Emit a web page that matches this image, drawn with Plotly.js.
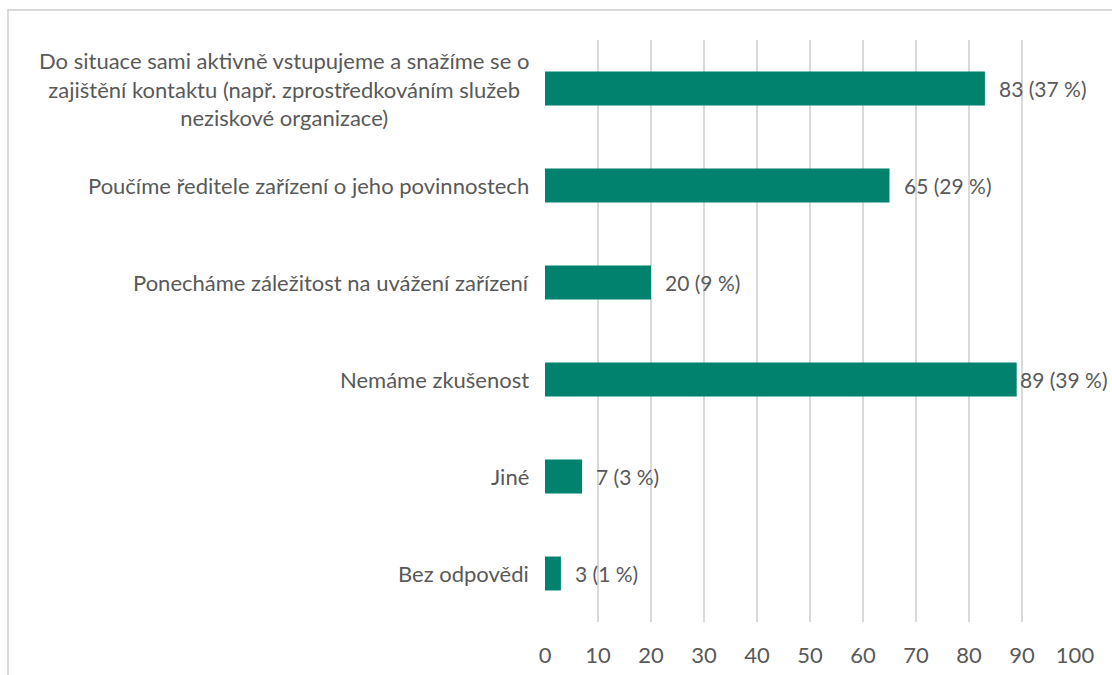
<!DOCTYPE html>
<html>
<head>
<meta charset="utf-8">
<script src="https://cdn.plot.ly/plotly-3.0.1.min.js"></script>
<style>
html,body{margin:0;padding:0;background:#fff;}
#wrap{position:relative;width:1112px;height:675px;}
#chart{position:absolute;left:0;top:0;width:1112px;height:675px;}
#frame{position:absolute;left:7px;top:9px;width:1110px;height:670px;border-left:2px solid #d9d9d9;border-top:2px solid #d9d9d9;pointer-events:none;}
</style>
</head>
<body>
<div id="wrap"><div id="chart"></div><div id="frame"></div></div>
<script>
const categories = [
  "Do situace sami aktivně vstupujeme a snažíme se o<br>zajištění kontaktu (např. zprostředkováním služeb<br>neziskové organizace)",
  "Poučíme ředitele zařízení o jeho povinnostech",
  "Ponecháme záležitost na uvážení zařízení",
  "Nemáme zkušenost",
  "Jiné",
  "Bez odpovědi"
];
const counts = [83, 65, 20, 89, 7, 3];
const percents = [37, 29, 9, 39, 3, 1];
const xTicks = [0,10,20,30,40,50,60,70,80,90,100];

const FONT = "Lato, 'Open Sans', sans-serif";
const TXT = "#595959";
const FS = 22;
const FS_LABEL = 21;

const trace = {
  type: "bar",
  orientation: "h",
  x: counts,
  y: categories,
  marker: {color: "#00826F"},
  width: 0.35,
  hoverinfo: "none"
};

const annotations = [];
categories.forEach((c, i) => {
  annotations.push({
    x: counts[i], y: c, xref: "x", yref: "y",
    text: counts[i] + " (" + percents[i] + " %)",
    showarrow: false, xanchor: "left", borderpad: 0, borderwidth: 0,
    xshift: counts[i] >= 88 ? 3 : 14,
    font: {family: FONT, size: FS_LABEL, color: TXT}
  });
  annotations.push({
    x: 0, y: c, xref: "paper", yref: "y",
    text: c, showarrow: false, xanchor: "right", xshift: -14,
    align: "center",
    font: {family: FONT, size: FS, color: TXT}
  });
});

const layout = {
  width: 1112, height: 675,
  margin: {l: 545, r: 37, t: 40, b: 53},
  paper_bgcolor: "#fff", plot_bgcolor: "#fff",
  showlegend: false,
  xaxis: {
    range: [0, 100], tickvals: xTicks, ticktext: xTicks.map(String),
    showgrid: true, gridcolor: "#d9d9d9", gridwidth: 2,
    zeroline: false, showline: false, ticks: "",
    tickfont: {family: FONT, size: FS, color: TXT}, ticklabelstandoff: 18,
    fixedrange: true
  },
  yaxis: {
    autorange: "reversed", showticklabels: false, showgrid: false,
    zeroline: false, showline: false, ticks: "", fixedrange: true
  },
  annotations: annotations
};

Plotly.newPlot("chart", [trace], layout, {staticPlot: true, displayModeBar: false});
</script>
</body>
</html>
